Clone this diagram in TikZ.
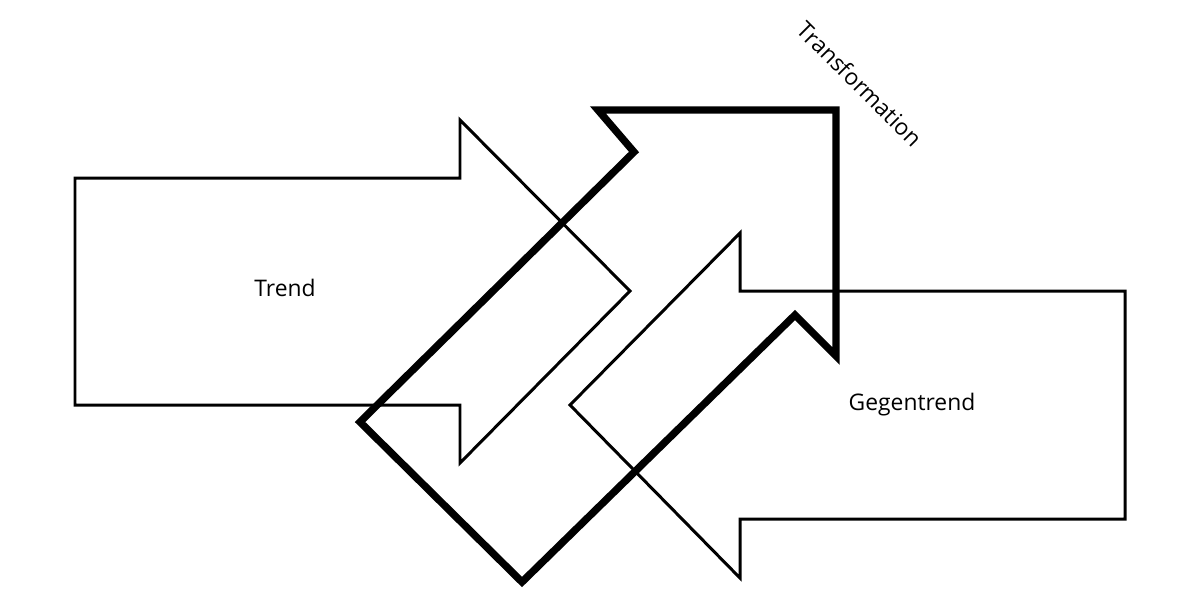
\documentclass[tikz,border=0pt]{standalone}
\usepackage{fontspec}
\setmainfont{Open Sans}
\begin{document}
\begin{tikzpicture}[x=0.02cm,y=-0.02cm,
  thin arrow/.style={draw=black,line width=1.7pt,line join=miter},
  thick arrow/.style={draw=black,line width=4.2pt,line join=miter},
  lbl/.style={font=\fontsize{13}{15}\selectfont}]
\useasboundingbox (0,0) rectangle (1200,600);
\draw[thin arrow] (75,178) -- (460,178) -- (460,120) -- (630,291) -- (460,463) -- (460,405) -- (75,405) -- cycle;
\draw[thin arrow] (1125,291) -- (740,291) -- (740,233) -- (570,405) -- (740,578) -- (740,519) -- (1125,519) -- cycle;
\draw[thick arrow] (598,110) -- (836,110) -- (836,356) -- (795,315) -- (522,582) -- (360,422) -- (634,152) -- cycle;
\node[lbl] (trend) at (285,288) {Trend};
\node[lbl] (gegen) at (912,405) {Gegentrend};
\node[lbl,rotate=-45] (trans) at (860,84) {Transformation};
\end{tikzpicture}
\end{document}
